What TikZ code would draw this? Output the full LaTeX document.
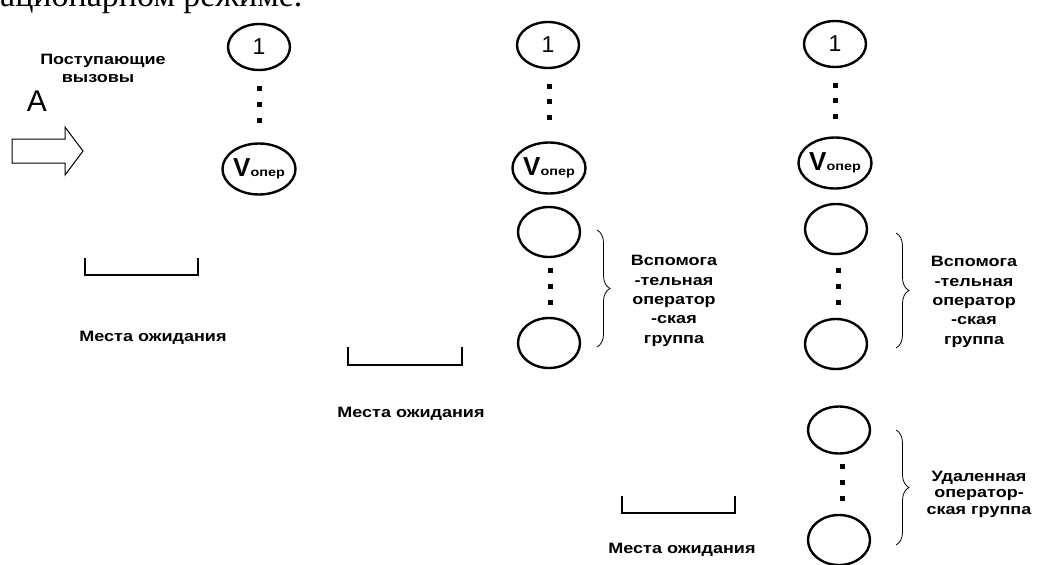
\documentclass[tikz,border=0pt]{standalone}
\usepackage{fontspec}
\setmainfont{Liberation Serif}
\newfontfamily\lab[FakeStretch=1.2]{Liberation Sans}
\newfontfamily\plainsans{Liberation Sans}
\usetikzlibrary{shapes.geometric,decorations.pathreplacing}

\tikzset{
  op/.style={draw, ellipse, line width=2.4pt, inner sep=0pt,
    minimum width=62pt, minimum height=50pt},
  opone/.style={op, minimum height=46pt,
    font=\plainsans\fontsize{23}{23}\selectfont},
  dotsq/.style={fill, rectangle, minimum size=5pt, inner sep=0pt},
  lbl/.style={font=\lab\bfseries\fontsize{15}{19.3}\selectfont, align=center,
    inner sep=0pt, anchor=base},
  lbltight/.style={lbl, font=\lab\bfseries\fontsize{15}{16.5}\selectfont},
  grpbrace/.style={decorate, decoration={brace, amplitude=13pt}, line width=0.8pt},
  waitbox/.style={line width=2.6pt, line join=miter},
}
\newcommand{\Vop}{{\plainsans\bfseries\fontsize{26}{26}\selectfont V}%
  {\lab\bfseries\fontsize{12}{12}\selectfont опер}}

\begin{document}
\begin{tikzpicture}[x=1pt, y=-1pt]
\useasboundingbox (0,0) rectangle (1039,565);

% line of body text running off the top edge
\node[anchor=base west, inner sep=0pt, font=\fontsize{34}{34}\selectfont]
  (head) at (0,6) {ационарном режиме.};

% incoming calls
\node[lbl] (inc1) at (103,64) {Поступающие};
\node[lbl] (inc2) at (98,82) {вызовы};
\node[inner sep=0pt, font=\plainsans\fontsize{30}{30}\selectfont] (load) at (37,101) {A};
\draw[line width=1pt, line join=miter]
  (12,139) -- (65,139) -- (65,127) -- (83,151) -- (65,175) -- (65,163) -- (12,163) -- cycle;

% ---------- column 1 ----------
\node[opone] (c1one) at (259,47) {1};
\node[dotsq] (c1d1) at (259,88) {};
\node[dotsq] (c1d2) at (259,104) {};
\node[dotsq] (c1d3) at (259,120) {};
\node[op, minimum height=51pt] (c1v) at (259,169) {\Vop};
\draw[waitbox] (85,258) -- (85,275) -- (198,275) -- (198,258);
\node[lbl] (c1wait) at (153,341) {Места ожидания};

% ---------- column 2 ----------
\node[opone] (c2one) at (548,45) {1};
\node[dotsq] (c2d1) at (549,86) {};
\node[dotsq] (c2d2) at (549,101) {};
\node[dotsq] (c2d3) at (549,117) {};
\node[op, minimum height=51pt] (c2v) at (549,168) {\Vop};
\node[op] (c2a) at (549,232) {};
\node[dotsq] (c2e1) at (550,270) {};
\node[dotsq] (c2e2) at (550,286) {};
\node[dotsq] (c2e3) at (550,302) {};
\node[op] (c2b) at (549,343) {};
\coordinate (c2bt) at (597,230);
\coordinate (c2bb) at (597,347);
\draw[grpbrace] (c2bt) -- (c2bb);
\node[lbl] (c2grp) at (674,343) {Вспомога\\-тельная\\оператор\\-ская\\группа};
\draw[waitbox] (348,347) -- (348,365) -- (462,365) -- (462,347);
\node[lbl] (c2wait) at (411,417) {Места ожидания};

% ---------- column 3 ----------
\node[opone] (c3one) at (835,44) {1};
\node[dotsq] (c3d1) at (835,85) {};
\node[dotsq] (c3d2) at (835,100) {};
\node[dotsq] (c3d3) at (835,116) {};
\node[op, minimum height=51pt] (c3v) at (835,163) {\Vop};
\node[op] (c3a) at (836,229) {};
\node[dotsq] (c3e1) at (838,270) {};
\node[dotsq] (c3e2) at (838,286) {};
\node[dotsq] (c3e3) at (838,302) {};
\node[op] (c3b) at (836,344) {};
\coordinate (c3bt) at (896,233);
\coordinate (c3bb) at (896,348);
\draw[grpbrace] (c3bt) -- (c3bb);
\node[lbl] (c3grp) at (974,344) {Вспомога\\-тельная\\оператор\\-ская\\группа};

\node[op, minimum height=47pt] (c3r1) at (839,430) {};
\node[dotsq] (c3f1) at (842,466) {};
\node[dotsq] (c3f2) at (842,482) {};
\node[dotsq] (c3f3) at (842,498) {};
\node[op] (c3r2) at (839,540) {};
\coordinate (c3rt) at (896,430);
\coordinate (c3rb) at (896,545);
\draw[grpbrace] (c3rt) -- (c3rb);
\node[lbltight] (c3rem) at (979,514) {Удаленная\\оператор-\\ская группа};

\draw[waitbox] (622,496) -- (622,513) -- (735,513) -- (735,496);
\node[lbl] (c3wait) at (682,553) {Места ожидания};
\end{tikzpicture}
\end{document}
